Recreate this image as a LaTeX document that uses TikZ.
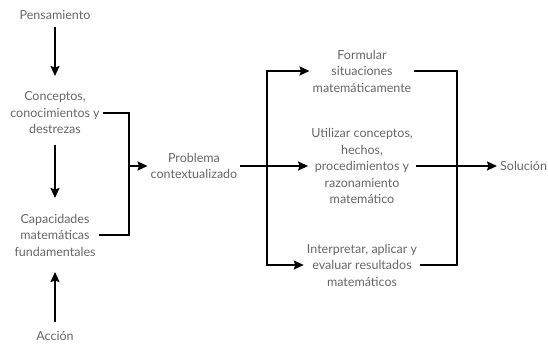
\documentclass[tikz,border=0pt]{standalone}
\usepackage{fontspec}
\setmainfont{Lato}
\usetikzlibrary{arrows.meta}
\begin{document}
\begin{tikzpicture}[x=1pt,y=-1pt,
  lbl/.style={align=center,text=black!60,font=\fontsize{12.5}{16.5}\selectfont,inner xsep=3pt,inner ysep=2pt},
  wire/.style={line width=1.8pt,black},
  arr/.style={wire,-{Stealth[length=10pt,width=9pt,inset=1.5pt]}}]
\useasboundingbox (0,0) rectangle (548,350);
% left column
\node[lbl] (pens) at (55,15) {Pensamiento};
\node[lbl] (conc) at (55,113) {Conceptos,\\conocimientos y\\destrezas};
\node[lbl] (cap) at (55,235) {Capacidades\\matemáticas\\fundamentales};
\node[lbl] (acc) at (55,336) {Acción};
% centre
\node[lbl] (prob) at (194,166) {Problema\\contextualizado};
% processes
\node[lbl] (form) at (362,71) {Formular\\situaciones\\matemáticamente};
\node[lbl] (util) at (362,166) {Utilizar conceptos,\\hechos,\\procedimientos y\\razonamiento\\matemático};
\node[lbl] (interp) at (362,265) {Interpretar, aplicar y\\evaluar resultados\\matemáticos};
\node[lbl,anchor=west] (sol) at (497,166) {Solución};
% junctions
\coordinate (jL) at (129,166);
\coordinate (jR) at (267,166);
\coordinate (jS) at (457,166);
% connectors
\draw[arr] (pens) ++(0,12) -- (55,76);
\draw[arr] (conc) ++(0,32) -- (55,198);
\draw[arr] (acc) ++(0,-14) -- (55,272);
\draw[wire] (conc.east) -| (jL) |- (cap.east);
\draw[arr] (jL) -- (prob.west);
\draw[arr] (prob.east) -- (util.west);
\draw[arr] (jR) |- (form.west);
\draw[arr] (jR) |- (interp.west);
\draw[wire] (form.east) -| (jS) |- (interp.east);
\draw[arr] (util.east) -- (sol.west);
\end{tikzpicture}
\end{document}
